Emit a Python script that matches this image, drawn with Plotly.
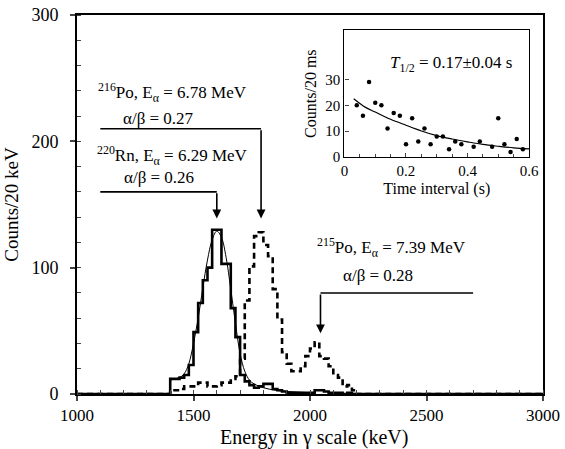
import plotly.graph_objects as go

# ---- main spectrum: 20 keV bins, left edges in keV ----
bin_start = 1400
bin_width = 20
rn220_counts = [12, 12, 13, 15, 23, 49, 72, 90, 100, 130, 130, 103, 103, 68, 45,
                15, 10, 7, 5, 6, 8, 8, 4, 3, 2, 1, 1, 1, 1, 1, 1, 3, 3, 2, 1,
                1, 1, 0, 1, 0]
po_counts = [3, 3, 4, 6, 6, 6, 9, 9, 6, 6, 7, 9, 9, 12, 14, 28, 74, 101, 125, 128,
             118, 109, 83, 59, 33, 24, 18, 18, 22, 30, 36, 41, 30, 28, 22, 15,
             13, 6, 7, 3]

# Gaussian fit to the 220Rn peak (sampled)
fit_energy = [1400, 1420, 1440, 1460, 1480, 1500, 1520, 1540, 1560, 1580, 1600,
              1620, 1640, 1660, 1680, 1700, 1720, 1740, 1760, 1800, 1850, 1900,
              1950, 2000]
fit_counts = [11, 12, 13, 16, 24, 40, 60, 84, 106, 122, 129, 124, 108, 83, 56,
              32, 18, 11, 8, 5, 3, 2, 1.5, 1]

# ---- inset: time-interval distribution ----
dt_s = [0.04, 0.06, 0.08, 0.10, 0.12, 0.14, 0.16, 0.18, 0.20, 0.22, 0.24, 0.26,
        0.28, 0.30, 0.32, 0.34, 0.36, 0.38, 0.42, 0.44, 0.48, 0.50, 0.52, 0.54,
        0.56, 0.58]
dt_counts = [20, 16, 29, 21, 20, 11, 17, 16, 5, 15, 6, 11, 5, 8, 8, 3, 6, 5, 4,
             6, 4, 15, 5, 2, 7, 3]
decay_t = [0.03, 0.067, 0.10, 0.15, 0.20, 0.25, 0.30, 0.35, 0.40, 0.45, 0.50,
           0.55, 0.60]
decay_fit = [22.5, 19.3, 17.4, 14.6, 12.3, 10.1, 8.3, 7.0, 5.9, 4.9, 4.2, 3.6, 3.2]

x_min, x_max = 1000, 3000


def step_trace(counts):
    edges = [bin_start + i * bin_width for i in range(len(counts))]
    end = edges[-1] + bin_width
    xs = [x_min] + edges + [end, x_max]
    ys = [0] + counts + [0, 0]
    return xs, ys


FONT = "'Liberation Serif', 'Times New Roman', Times, serif"
fig = go.Figure()

xs, ys = step_trace(po_counts)
fig.add_trace(go.Scatter(x=xs, y=ys, mode="lines", line_shape="hv",
                         line=dict(color="black", width=2.6, dash="6px,4px"),
                         showlegend=False))
xs, ys = step_trace(rn220_counts)
fig.add_trace(go.Scatter(x=xs, y=ys, mode="lines", line_shape="hv",
                         line=dict(color="black", width=2.6), showlegend=False))
fig.add_trace(go.Scatter(x=fit_energy, y=fit_counts, mode="lines",
                         line_shape="spline",
                         line=dict(color="black", width=1), showlegend=False))

# inset
fig.add_trace(go.Scatter(x=dt_s, y=dt_counts, mode="markers", xaxis="x2",
                         yaxis="y2", marker=dict(color="black", size=4.5),
                         showlegend=False))
fig.add_trace(go.Scatter(x=decay_t, y=decay_fit, mode="lines", xaxis="x2",
                         yaxis="y2", line_shape="spline",
                         line=dict(color="black", width=1.2), showlegend=False))

# peak markers: label, horizontal leader, arrow down to peak
markers = [
    # (line1, x, y, line2, x, y, leader y, leader x0, leader x1, arrow x, tip y)
    ("<sup>216</sup>Po, E<sub>α</sub> = 6.78 MeV", 1409, 239,
     "α/β = 0.27", 1350, 218, 210, 1100, 1790, 1790, 139),
    ("<sup>220</sup>Rn, E<sub>α</sub> = 6.29 MeV", 1409, 189,
     "α/β = 0.26", 1350, 171, 160, 1100, 1600, 1600, 139),
    ("<sup>215</sup>Po, E<sub>α</sub> = 7.39 MeV", 2348, 116,
     "α/β = 0.28", 2291, 94, 80, 2700, 2045, 2045, 48),
]
annotations = []
shapes = []
for l1, x1, y1, l2, x2, y2, ly, lx0, lx1, ax_, tip in markers:
    annotations.append(dict(x=x1, y=y1, xref="x", yref="y", text=l1,
                            showarrow=False, font=dict(family=FONT, size=17)))
    annotations.append(dict(x=x2, y=y2, xref="x", yref="y", text=l2,
                            showarrow=False, font=dict(family=FONT, size=17)))
    shapes.append(dict(type="line", xref="x", yref="y", x0=lx0, x1=lx1,
                       y0=ly, y1=ly, line=dict(color="black", width=1.6)))
    annotations.append(dict(x=ax_, y=tip, ax=ax_, ay=ly, xref="x", yref="y",
                            axref="x", ayref="y", text="", showarrow=True,
                            arrowhead=2, arrowsize=1.1, arrowwidth=1.6,
                            arrowcolor="black"))

annotations.append(dict(x=0.345, y=36, xref="x2", yref="y2",
                        text="<i>T</i><sub>1/2</sub> = 0.17±0.04 s",
                        showarrow=False, font=dict(family=FONT, size=17)))

# x-axis title of the spectrum
annotations.append(dict(x=0.508, y=-0.116, xref="paper", yref="paper",
                        text="Energy in γ scale (keV)", showarrow=False,
                        yanchor="middle", font=dict(family=FONT, size=20)))

fig.update_layout(
    width=565, height=449,
    margin=dict(l=77, r=14, t=15, b=55),
    paper_bgcolor="white", plot_bgcolor="white",
    font=dict(family=FONT, color="black", size=17),
    annotations=annotations, shapes=shapes,
    xaxis=dict(range=[x_min, x_max], tickvals=[1000, 1500, 2000, 2500, 3000],
               automargin=False,
               ticks="outside", ticklen=5, tickwidth=1.5,
               minor=dict(dtick=100, ticks="inside", ticklen=4, tickwidth=1.2),
               showline=True, linecolor="black", linewidth=1.8, mirror=True,
               showgrid=False, zeroline=False,
               tickfont=dict(family=FONT, size=17)),
    yaxis=dict(range=[0, 300], tickvals=[0, 100, 200, 300],
               automargin=False,
               ticks="outside", ticklen=5, tickwidth=1.5, ticklabelstandoff=8,
               minor=dict(dtick=20, ticks="inside", ticklen=4, tickwidth=1.2),
               showline=True, linecolor="black", linewidth=1.8, mirror=True,
               showgrid=False, zeroline=False,
               title=dict(text="Counts/20 keV",
                          font=dict(family=FONT, size=19), standoff=8),
               tickfont=dict(family=FONT, size=18)),
    xaxis2=dict(domain=[0.574, 0.970], anchor="y2", range=[0, 0.6],
                tickvals=[0, 0.2, 0.4, 0.6], ticktext=["0", "0.2", "0.4", "0.6"],
                ticks="inside", ticklen=4, tickwidth=1.2,
                minor=dict(dtick=0.05, ticks="inside", ticklen=3),
                showline=True, linecolor="black", linewidth=1.4, mirror=True,
                showgrid=False, zeroline=False,
                title=dict(text="Time interval (s)",
                           font=dict(family=FONT, size=16), standoff=4),
                tickfont=dict(family=FONT, size=15)),
    yaxis2=dict(domain=[0.625, 0.960], anchor="x2", range=[0, 49],
                tickvals=[0, 10, 20, 30], ticks="inside", ticklen=4,
                tickwidth=1.2,
                showline=True, linecolor="black", linewidth=1.4, mirror=True,
                showgrid=False, zeroline=False,
                title=dict(text="Counts/20 ms",
                           font=dict(family=FONT, size=16), standoff=4),
                tickfont=dict(family=FONT, size=15)),
)

fig.write_html("out.html")
